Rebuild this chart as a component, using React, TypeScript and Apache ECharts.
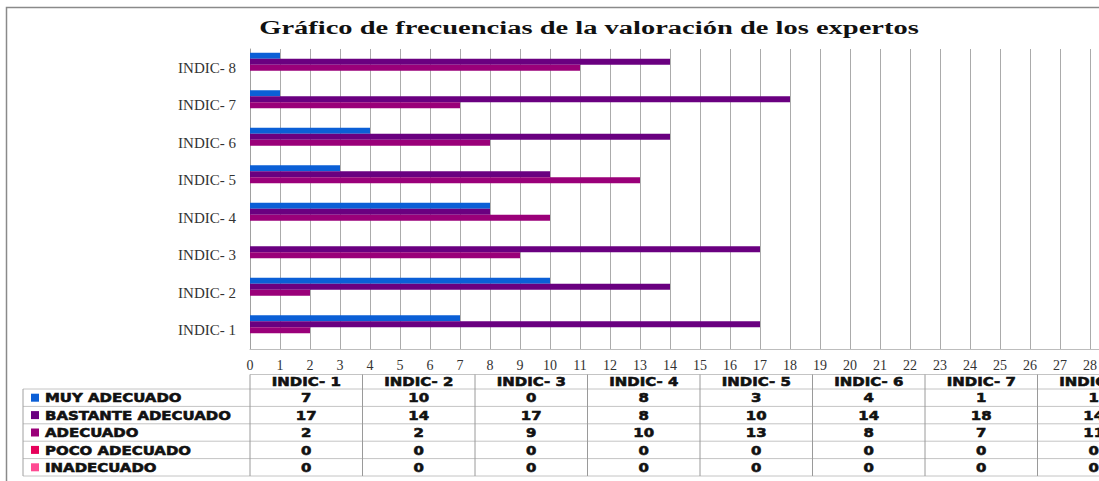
import React, { useEffect, useRef } from "react";
import * as echarts from "echarts";

const TITLE = "Gráfico de frecuencias de la valoración de los expertos";
const categories = ["INDIC- 1", "INDIC- 2", "INDIC- 3", "INDIC- 4", "INDIC- 5", "INDIC- 6", "INDIC- 7", "INDIC- 8"];
const seriesNames = ["MUY ADECUADO", "BASTANTE ADECUADO", "ADECUADO", "POCO ADECUADO", "INADECUADO"];
const muyAdecuado = [7, 10, 0, 8, 3, 4, 1, 1];
const bastanteAdecuado = [17, 14, 17, 8, 10, 14, 18, 14];
const adecuado = [2, 2, 9, 10, 13, 8, 7, 11];
const pocoAdecuado = [0, 0, 0, 0, 0, 0, 0, 0];
const inadecuado = [0, 0, 0, 0, 0, 0, 0, 0];
const seriesValues = [muyAdecuado, bastanteAdecuado, adecuado, pocoAdecuado, inadecuado];
const seriesColors = ["#0b5fd6", "#6a0080", "#9a0079", "#e6005a", "#ff4a92"];
const xTicks = { min: 0, max: 30, interval: 1 };

const CHART_W = 1200;
const CHART_H = 481;
const GRID_LEFT = 250;
const GRID_TOP = 49;
const GRID_W = 900;
const GRID_H = 300;

export default function App() {
  const ref = useRef<HTMLDivElement | null>(null);

  useEffect(() => {
    if (!ref.current) return;
    const chart = echarts.init(ref.current, null, { renderer: "svg" });

    const colW = GRID_W / categories.length;
    const headerTop = 374.5;
    const headerBottom = 389;
    const rowH = 17.4;
    const tableLeft = 23;
    const tableRight = GRID_LEFT + GRID_W;
    const tableFont = {
      fontFamily: "DejaVu Sans",
      fontWeight: "bold",
      fontSize: 13,
      fill: "#111",
      stroke: "#111",
      lineWidth: 0.6,
    };
    const graphics: any[] = [];

    // outer border
    graphics.push({
      type: "rect",
      shape: { x: 6.5, y: 7.5, width: CHART_W, height: CHART_H + 20 },
      style: { fill: "none", stroke: "#8a8a8a", lineWidth: 1.5 },
      silent: true,
    });
    // title
    graphics.push({
      type: "text",
      x: 589,
      y: 27,
      scaleX: 1.5,
      style: {
        text: TITLE,
        fontFamily: "Liberation Serif",
        fontWeight: "bold",
        fontSize: 19,
        fill: "#111",
        textAlign: "center",
        textVerticalAlign: "middle",
      },
    });

    // table horizontal lines
    graphics.push({
      type: "line",
      shape: { x1: GRID_LEFT, y1: headerTop, x2: tableRight, y2: headerTop },
      style: { stroke: "#c4c4c4", lineWidth: 1 },
    });
    for (let r = 0; r <= seriesNames.length; r++) {
      const y = headerBottom + r * rowH;
      graphics.push({
        type: "line",
        shape: { x1: tableLeft, y1: y, x2: tableRight, y2: y },
        style: { stroke: "#c4c4c4", lineWidth: 1 },
      });
    }
    // vertical lines
    graphics.push({
      type: "line",
      shape: { x1: tableLeft, y1: headerBottom, x2: tableLeft, y2: headerBottom + seriesNames.length * rowH },
      style: { stroke: "#a0a0a0", lineWidth: 1 },
    });
    for (let c = 0; c <= categories.length; c++) {
      const x = GRID_LEFT + c * colW;
      graphics.push({
        type: "line",
        shape: { x1: x, y1: headerTop, x2: x, y2: headerBottom + seriesNames.length * rowH },
        style: { stroke: "#9a9a9a", lineWidth: 1 },
      });
    }
    // header labels
    categories.forEach((cat, i) => {
      graphics.push({
        type: "text",
        x: GRID_LEFT + colW * (i + 0.5),
        y: (headerTop + headerBottom) / 2,
        scaleX: 1.15,
        style: { ...tableFont, text: cat, textAlign: "center", textVerticalAlign: "middle" },
      });
    });
    // rows
    seriesNames.forEach((name, r) => {
      const cy = headerBottom + rowH * (r + 0.5);
      graphics.push({
        type: "rect",
        shape: { x: 31, y: cy - 4, width: 8, height: 8 },
        style: { fill: seriesColors[r] },
      });
      graphics.push({
        type: "text",
        x: 45,
        y: cy,
        scaleX: 1.15,
        style: { ...tableFont, text: name, textAlign: "left", textVerticalAlign: "middle" },
      });
      seriesValues[r].forEach((v, i) => {
        graphics.push({
          type: "text",
          x: GRID_LEFT + colW * (i + 0.5),
          y: cy,
          scaleX: 1.15,
          style: { ...tableFont, text: String(v), textAlign: "center", textVerticalAlign: "middle" },
        });
      });
    });

    chart.setOption({
      animation: false,
      backgroundColor: "#ffffff",
      grid: { left: GRID_LEFT, top: GRID_TOP, width: GRID_W, height: GRID_H },
      xAxis: {
        type: "value",
        min: xTicks.min,
        max: xTicks.max,
        interval: xTicks.interval,
        axisLine: { show: true, lineStyle: { color: "#bdbdbd", width: 1 } },
        axisTick: { show: false },
        splitLine: { show: true, lineStyle: { color: "#ababab", width: 1 } },
        axisLabel: { margin: 9, fontFamily: "Liberation Serif", fontSize: 14, color: "#333" },
      },
      yAxis: {
        type: "category",
        data: categories,
        axisLine: { show: true, lineStyle: { color: "#a0a0a0" } },
        axisTick: { show: false },
        splitLine: { show: false },
        axisLabel: { margin: 14, fontFamily: "Liberation Serif", fontSize: 15, color: "#333" },
      },
      series: seriesNames.map((name, i) => ({
        name,
        type: "bar",
        data: seriesValues[i],
        barWidth: 6,
        barGap: "0%",
        itemStyle: { color: seriesColors[i] },
      })),
      graphic: graphics,
    });

    return () => chart.dispose();
  }, []);

  return (
    <div
      style={{
        position: "fixed",
        left: 0,
        top: 0,
        width: 1099,
        height: 481,
        overflow: "hidden",
        background: "#fff",
      }}
    >
      <div ref={ref} style={{ width: CHART_W, height: CHART_H }} />
    </div>
  );
}
